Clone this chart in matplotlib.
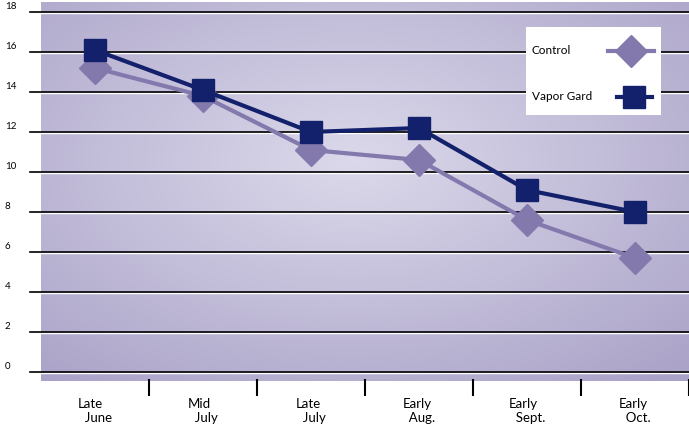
import matplotlib.pyplot as plt
import numpy as np
from matplotlib.lines import Line2D
from matplotlib.patches import Rectangle
from matplotlib.transforms import ScaledTranslation

plt.rcParams['font.family'] = ['Lato', 'DejaVu Sans']

periods = ['Late\n  June', 'Mid\n  July', 'Late\n  July', 'Early\n  Aug.', 'Early\n  Sept.', 'Early\n  Oct.']
control = [15.2, 13.8, 11.1, 10.6, 7.6, 5.7]
vapor_gard = [16.1, 14.1, 12.0, 12.2, 9.1, 8.0]
y_ticks = [0, 2, 4, 6, 8, 10, 12, 14, 16, 18]

light = '#8479ad'
dark = '#13206b'

W, H = 689, 432
fig = plt.figure(figsize=(W / 100, H / 100), dpi=100)
ax = fig.add_axes([41 / W, 51 / H, 648 / W, 379 / H])
x = np.arange(len(periods))
ax.set_xlim(-0.5, len(periods) - 0.5)
ax.set_ylim(-0.45, 18.5)

# soft radial background, lighter towards the middle
gx, gy = np.meshgrid(np.linspace(0, 1, 300), np.linspace(0, 1, 200))
r = np.sqrt(((gx - 0.48) / 0.75) ** 2 + ((gy - 0.58) / 0.75) ** 2)
r = np.clip(r, 0, 1)
c_in = np.array([0.86, 0.85, 0.92])
c_out = np.array([0.67, 0.64, 0.785])
img = c_in[None, None, :] * (1 - r[..., None]) + c_out[None, None, :] * r[..., None]
ax.imshow(img, extent=[0, 1, 0, 1], transform=ax.transAxes, aspect='auto', zorder=0, origin='lower')

# embossed grid lines that run out past the panel
for v in y_ticks:
    ax.axhline(v - 0.07, xmin=-0.017, xmax=1, color='white', lw=1.0, clip_on=False, zorder=1)
    ax.axhline(v, xmin=-0.017, xmax=1, color='black', lw=1.2, clip_on=False, zorder=1)

ax.plot(x, control, color=light, lw=3, marker='D', markersize=16, zorder=3)
ax.plot(x, vapor_gard, color=dark, lw=3, marker='s', markersize=16.5, zorder=4)

for s in ax.spines.values():
    s.set_visible(False)

ax.set_yticks(y_ticks)
ax.set_yticklabels([str(v) for v in y_ticks], fontsize=7, ha='left', va='bottom')
ax.tick_params(axis='y', length=0, pad=26)
off = ScaledTranslation(0, 1 / 100, fig.dpi_scale_trans)
for lab in ax.get_yticklabels():
    lab.set_transform(lab.get_transform() + off)

ax.set_xticks(x)
ax.set_xticklabels(periods, fontsize=9.5, multialignment='left')
ax.set_xticks(x + 0.5, minor=True)
ax.tick_params(axis='x', which='major', length=0, pad=12)
ax.tick_params(axis='x', which='minor', length=12, width=1.5, direction='out', color='black')
off_t = ScaledTranslation(0, 2.5 / 100, fig.dpi_scale_trans)
for t in ax.xaxis.get_minor_ticks():
    t.tick1line.set_transform(t.tick1line.get_transform() + off_t)


# key box, laid out in pixels from the top-left like the original
def fx(px):
    return px / W


def fy(py):
    return 1 - py / H


fig.add_artist(Rectangle((fx(526), fy(115)), fx(661) - fx(526), fy(27) - fy(115),
                         transform=fig.transFigure, facecolor='white', edgecolor='none', zorder=5))
keys = [('Control', light, 'D', 16, 51, 608, 654, 631),
        ('Vapor Gard', dark, 's', 15.5, 97, 617, 652, 634)]
for name, col, mk, ms, py, x0, x1, xm in keys:
    fig.text(fx(532), fy(py), name, fontsize=8.5, va='center', ha='left', zorder=6)
    fig.add_artist(Line2D([fx(x0), fx(x1)], [fy(py), fy(py)], transform=fig.transFigure,
                          color=col, lw=3, zorder=6))
    fig.add_artist(Line2D([fx(xm)], [fy(py)], transform=fig.transFigure, color=col,
                          marker=mk, markersize=ms, lw=0, zorder=7))

fig.savefig('out.png', dpi=100)
